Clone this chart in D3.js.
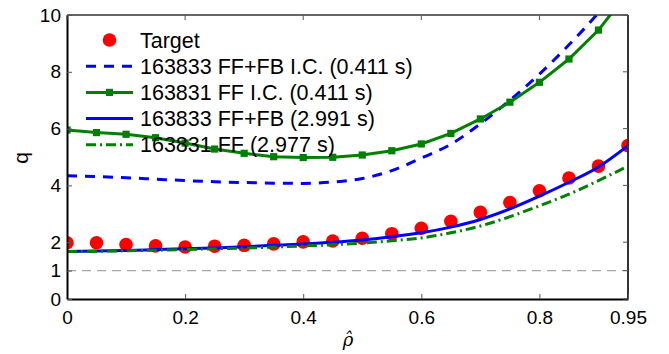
<!DOCTYPE html>
<html lang="en">
<head>
  <meta charset="utf-8">
  <title>q profile</title>
  <script src="https://d3js.org/d3.v7.min.js"></script>
  <style>
    body { margin: 0; background: #fff; }
    text { font-family: "Liberation Sans", Arial, sans-serif; fill: #000; }
  </style>
</head>
<body>
<script>
  // rho grid shared by all series
  const rho = [0, 0.05, 0.1, 0.15, 0.2, 0.25, 0.3, 0.35, 0.4, 0.45, 0.5, 0.55, 0.6, 0.65, 0.7, 0.75, 0.8, 0.85, 0.9, 0.95];

  const target      = [1.98, 1.98, 1.92, 1.87, 1.83, 1.86, 1.89, 1.94, 2.01, 2.04, 2.14, 2.30, 2.49, 2.74, 3.05, 3.40, 3.81, 4.26, 4.68, 5.40];
  const ffFbIC      = [4.34, 4.31, 4.27, 4.22, 4.17, 4.13, 4.10, 4.08, 4.07, 4.12, 4.24, 4.52, 4.96, 5.45, 6.17, 7.00, 7.92, 8.95, 10.08, 11.4];
  const ffIC        = [5.95, 5.86, 5.80, 5.68, 5.49, 5.28, 5.13, 5.01, 4.98, 4.99, 5.07, 5.22, 5.46, 5.83, 6.34, 6.93, 7.63, 8.45, 9.47, 10.8];
  const ffFb        = [1.67, 1.69, 1.71, 1.74, 1.77, 1.80, 1.84, 1.89, 1.94, 2.00, 2.08, 2.19, 2.33, 2.53, 2.80, 3.17, 3.62, 4.11, 4.65, 5.40];
  const ff          = [1.67, 1.68, 1.70, 1.72, 1.74, 1.77, 1.79, 1.83, 1.87, 1.91, 1.97, 2.05, 2.15, 2.33, 2.57, 2.90, 3.28, 3.69, 4.17, 4.68];

  const legendLabels = ["Target", "163833 FF+FB I.C. (0.411 s)", "163831 FF I.C. (0.411 s)", "163833 FF+FB (2.991 s)", "163831 FF (2.977 s)"];
  const xTicks = [0, 0.2, 0.4, 0.6, 0.8, 0.95];
  const yTicks = [0, 1, 2, 4, 6, 8, 10];

  const width = 669, height = 354;
  const svg = d3.select("body").append("svg")
    .attr("width", width)
    .attr("height", height);

  const x = d3.scaleLinear().domain([0, 0.95]).range([67, 628]);
  const y = d3.scaleLinear().domain([0, 10]).range([299, 15]);

  svg.append("clipPath").attr("id", "plot")
    .append("rect")
    .attr("x", x(0)).attr("y", y(10))
    .attr("width", x(0.95) - x(0)).attr("height", y(0) - y(10));

  const plot = svg.append("g").attr("clip-path", "url(#plot)");

  // q = 1 reference line
  plot.append("line")
    .attr("x1", x(0)).attr("x2", x(0.95))
    .attr("y1", y(1)).attr("y2", y(1))
    .attr("stroke", "#a8a8a8")
    .attr("stroke-width", 1.3)
    .attr("stroke-dasharray", "9,6");

  const pts = vals => rho.map((r, i) => [r, vals[i]]);
  const smooth = d3.line().x(d => x(d[0])).y(d => y(d[1])).curve(d3.curveMonotoneX);
  const straight = d3.line().x(d => x(d[0])).y(d => y(d[1]));

  // Target dots
  plot.selectAll(".target")
    .data(pts(target))
    .enter().append("circle")
    .attr("class", "target")
    .attr("cx", d => x(d[0]))
    .attr("cy", d => y(d[1]))
    .attr("r", 6.8)
    .attr("fill", "#ff0000");

  // 163833 FF+FB I.C.
  plot.append("path")
    .attr("d", smooth(pts(ffFbIC)))
    .attr("fill", "none")
    .attr("stroke", "#0000ff")
    .attr("stroke-width", 3)
    .attr("stroke-dasharray", "10,8");

  // 163831 FF I.C. with square markers
  plot.append("path")
    .attr("d", straight(pts(ffIC)))
    .attr("fill", "none")
    .attr("stroke", "#008000")
    .attr("stroke-width", 3);

  plot.selectAll(".sq")
    .data(pts(ffIC))
    .enter().append("rect")
    .attr("class", "sq")
    .attr("x", d => x(d[0]) - 3.6)
    .attr("y", d => y(d[1]) - 3.6)
    .attr("width", 7.2)
    .attr("height", 7.2)
    .attr("fill", "#008000");

  // 163833 FF+FB
  plot.append("path")
    .attr("d", smooth(pts(ffFb)))
    .attr("fill", "none")
    .attr("stroke", "#0000ff")
    .attr("stroke-width", 3);

  // 163831 FF
  plot.append("path")
    .attr("d", smooth(pts(ff)))
    .attr("fill", "none")
    .attr("stroke", "#008000")
    .attr("stroke-width", 3)
    .attr("stroke-dasharray", "10,4,2,4");

  // box
  svg.append("line").attr("x1", x(0)).attr("x2", x(0.95)).attr("y1", y(10)).attr("y2", y(10))
    .attr("stroke", "#333").attr("stroke-width", 1.5);
  svg.append("line").attr("x1", x(0.95)).attr("x2", x(0.95)).attr("y1", y(10)).attr("y2", y(0))
    .attr("stroke", "#333").attr("stroke-width", 2);

  // axes, MATLAB style inward ticks
  const xAxis = svg.append("g")
    .attr("transform", "translate(0," + y(0) + ")")
    .call(d3.axisBottom(x).tickValues(xTicks).tickSizeInner(-5).tickSizeOuter(0).tickPadding(12)
      .tickFormat(d => d === 0 ? "0" : String(d)));
  const yAxis = svg.append("g")
    .attr("transform", "translate(" + x(0) + ",0)")
    .call(d3.axisLeft(y).tickValues(yTicks).tickSizeInner(-5).tickSizeOuter(0).tickPadding(6)
      .tickFormat(d3.format("d")));

  [xAxis, yAxis].forEach(g => {
    g.select(".domain").attr("stroke", "#000").attr("stroke-width", 2);
    g.selectAll(".tick line").attr("stroke", "#555").attr("stroke-width", 1);
    g.selectAll(".tick text").style("font-family", "Liberation Sans, Arial, sans-serif").style("font-size", "19px").attr("fill", "#000");
  });

  // ticks on top and right
  svg.append("g").selectAll("line").data(xTicks).enter().append("line")
    .attr("x1", d => x(d)).attr("x2", d => x(d))
    .attr("y1", y(10)).attr("y2", y(10) + 5)
    .attr("stroke", "#555");
  svg.append("g").selectAll("line").data(yTicks).enter().append("line")
    .attr("x1", x(0.95)).attr("x2", x(0.95) - 5)
    .attr("y1", d => y(d)).attr("y2", d => y(d))
    .attr("stroke", "#555");

  // axis labels
  svg.append("text")
    .attr("transform", "translate(28,158) rotate(-90)")
    .attr("text-anchor", "middle")
    .style("font-size", "21px")
    .text("q");

  svg.append("text")
    .attr("x", 348).attr("y", 346)
    .attr("text-anchor", "middle")
    .style("font-family", "DejaVu Serif, serif")
    .style("font-style", "italic")
    .style("font-size", "18px")
    .text("\u03C1\u0302");

  // legend (no box)
  const lg = svg.append("g");
  const rowY = i => 40 + i * 26.2;
  const x1 = 86, x2 = 133;

  lg.append("circle").attr("cx", (x1 + x2) / 2).attr("cy", rowY(0)).attr("r", 6.8).attr("fill", "#ff0000");

  lg.append("line").attr("x1", x1).attr("x2", x2).attr("y1", rowY(1)).attr("y2", rowY(1))
    .attr("stroke", "#0000ff").attr("stroke-width", 3).attr("stroke-dasharray", "10,8");

  lg.append("line").attr("x1", x1).attr("x2", x2).attr("y1", rowY(2)).attr("y2", rowY(2))
    .attr("stroke", "#008000").attr("stroke-width", 3);
  lg.append("rect").attr("x", (x1 + x2) / 2 - 3.6).attr("y", rowY(2) - 3.6)
    .attr("width", 7.2).attr("height", 7.2).attr("fill", "#008000");

  lg.append("line").attr("x1", x1).attr("x2", x2).attr("y1", rowY(3)).attr("y2", rowY(3))
    .attr("stroke", "#0000ff").attr("stroke-width", 3);

  lg.append("line").attr("x1", x1).attr("x2", x2).attr("y1", rowY(4)).attr("y2", rowY(4))
    .attr("stroke", "#008000").attr("stroke-width", 3).attr("stroke-dasharray", "10,4,2,4");

  lg.selectAll(".lbl")
    .data(legendLabels)
    .enter().append("text")
    .attr("class", "lbl")
    .attr("x", 140)
    .attr("y", (d, i) => rowY(i) + 7.6)
    .style("font-size", "21.5px")
    .text(d => d);
</script>
</body>
</html>
